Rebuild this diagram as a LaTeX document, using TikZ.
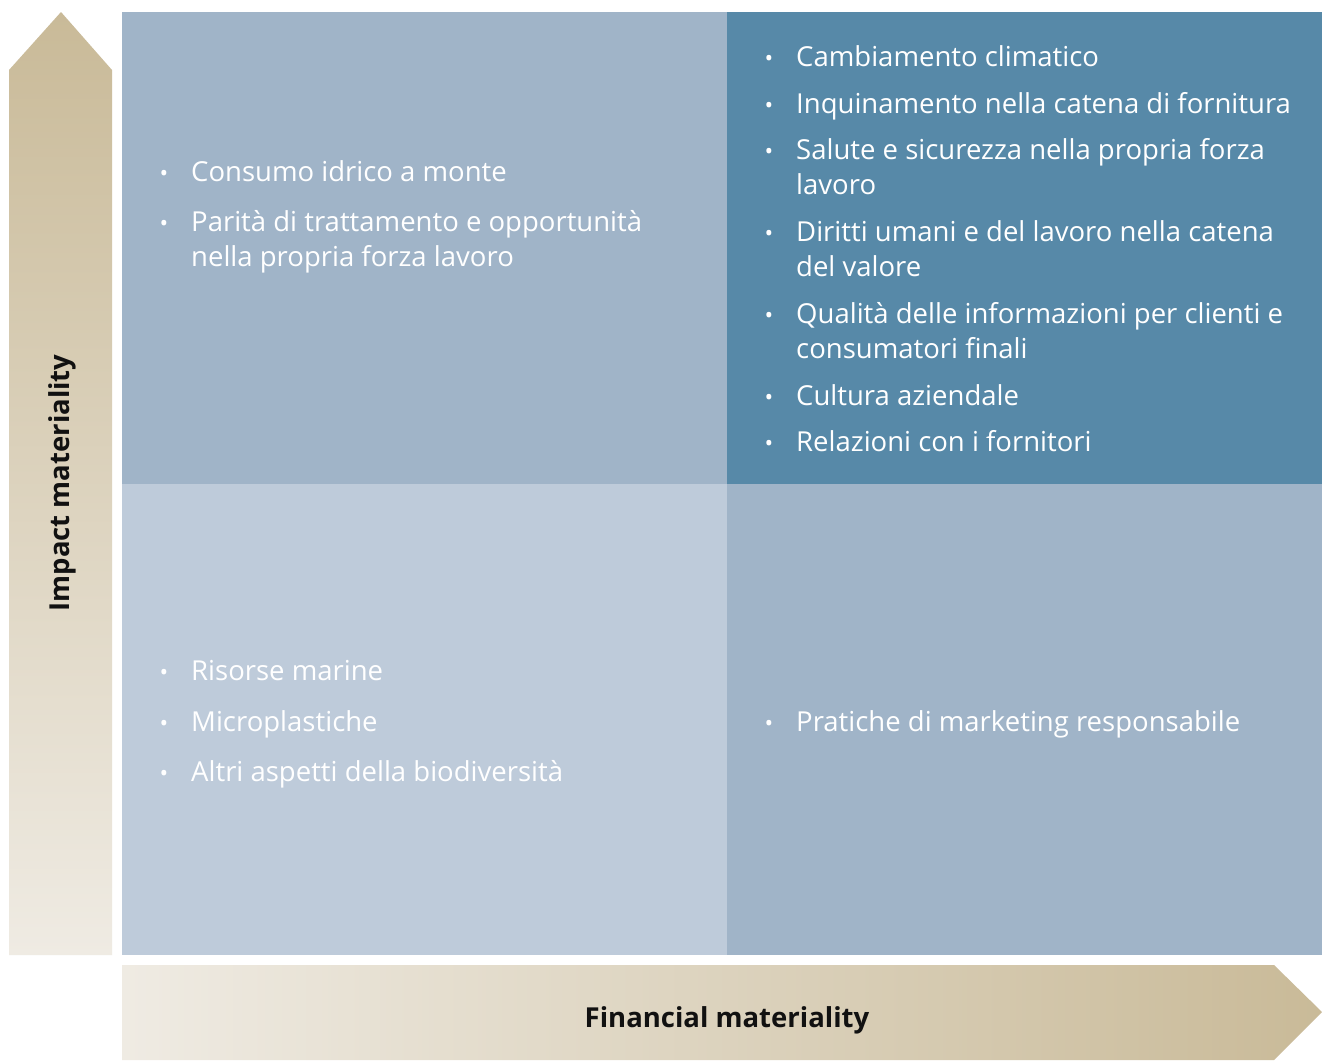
\documentclass[tikz,border=0pt]{standalone}
\usepackage{fontspec}
\setmainfont{Open Sans}
\definecolor{qmid}{HTML}{A0B4C8}
\definecolor{qdark}{HTML}{5789A8}
\definecolor{qlight}{HTML}{BECBDA}
\definecolor{tan}{HTML}{C9BA98}
\definecolor{cream}{HTML}{EFEBE3}
\definecolor{lbl}{HTML}{111111}
\begin{document}
\begin{tikzpicture}[x=1pt,y=-1pt,
  quad/.style={draw=none, inner sep=0pt, anchor=north west, minimum width=#1},
  item/.style={anchor=base west, inner sep=0pt, text=white, font=\fontsize{27.5}{30}\selectfont},
  bul/.style={anchor=base, inner sep=0pt, text=white, font=\fontsize{23}{24}\selectfont},
  axislbl/.style={inner sep=0pt, text=lbl, font=\bfseries\fontsize{27.5}{30}\selectfont}]
\useasboundingbox (0,0) rectangle (1322,1060);
\fill[white] (0,0) rectangle (1322,1060);
% quadrants
\node[quad=605pt, minimum height=472pt, fill=qmid] (q1) at (122,12) {};
\node[quad=595pt, minimum height=472pt, fill=qdark] (q2) at (727,12) {};
\node[quad=605pt, minimum height=471pt, fill=qlight] (q3) at (122,484) {};
\node[quad=595pt, minimum height=471pt, fill=qmid] (q4) at (727,484) {};
% arrows
\shade[top color=tan, bottom color=cream] (9,955) -- (9,70) -- (61,12) -- (112,70) -- (112,955) -- cycle;
\shade[left color=cream, right color=tan] (122,965) -- (1274,965) -- (1322,1012) -- (1274,1060) -- (122,1060) -- cycle;
\node[axislbl, rotate=90] (imp) at (62,483) {Impact materiality};
\node[axislbl] (fin) at (727,1020) {Financial materiality};
% top-left
\node[bul] (b11) at (164,181) {•};
\node[item] (t11) at (191,181) {Consumo idrico a monte};
\node[bul] (b12) at (164,231) {•};
\node[item] (t12) at (191,231) {Parità di trattamento e opportunità};
\node[item] (t12b) at (191,266) {nella propria forza lavoro};
% top-right
\node[bul] (b21) at (769,66) {•};
\node[item] (t21) at (796,66) {Cambiamento climatico};
\node[bul] (b22) at (769,113) {•};
\node[item] (t22) at (796,113) {Inquinamento nella catena di fornitura};
\node[bul] (b23) at (769,159) {•};
\node[item] (t23) at (796,159) {Salute e sicurezza nella propria forza};
\node[item] (t23b) at (796,194) {lavoro};
\node[bul] (b24) at (769,241) {•};
\node[item] (t24) at (796,241) {Diritti umani e del lavoro nella catena};
\node[item] (t24b) at (796,276) {del valore};
\node[bul] (b25) at (769,323) {•};
\node[item] (t25) at (796,323) {Qualità delle informazioni per clienti e};
\node[item] (t25b) at (796,358) {consumatori finali};
\node[bul] (b26) at (769,405) {•};
\node[item] (t26) at (796,405) {Cultura aziendale};
\node[bul] (b27) at (769,451) {•};
\node[item] (t27) at (796,451) {Relazioni con i fornitori};
% bottom-left
\node[bul] (b31) at (164,680) {•};
\node[item] (t31) at (191,680) {Risorse marine};
\node[bul] (b32) at (164,731) {•};
\node[item] (t32) at (191,731) {Microplastiche};
\node[bul] (b33) at (164,781) {•};
\node[item] (t33) at (191,781) {Altri aspetti della biodiversità};
% bottom-right
\node[bul] (b41) at (769,731) {•};
\node[item] (t41) at (796,731) {Pratiche di marketing responsabile};
\end{tikzpicture}
\end{document}
